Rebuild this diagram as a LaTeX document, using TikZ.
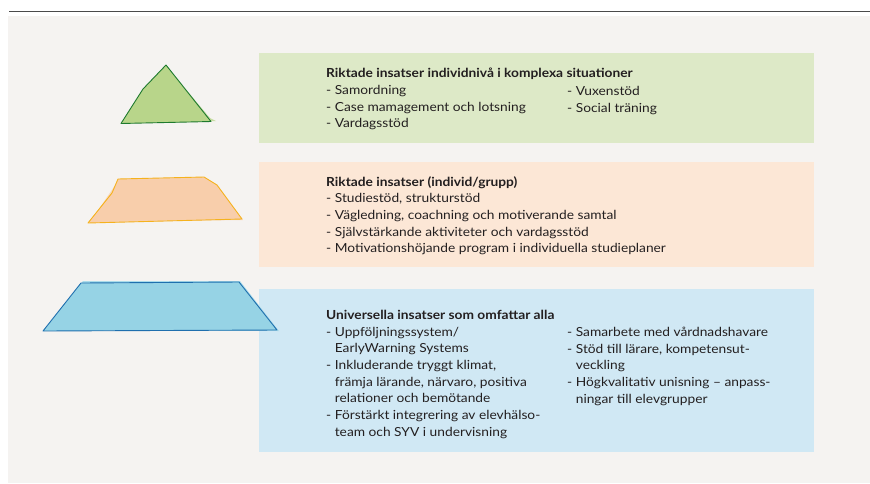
\documentclass[tikz,border=0pt]{standalone}
\usepackage{fontspec}
\setmainfont{Lato}[FakeStretch=1.10, BoldFeatures={FakeStretch=1.10}]
\usepackage{tikz}
\usetikzlibrary{calc}
\definecolor{panelgray}{HTML}{F5F3F1}
\definecolor{rulegray}{HTML}{4A4A4A}
\definecolor{txt}{HTML}{231F20}
\definecolor{greenbox}{HTML}{DDE9C7}
\definecolor{orangebox}{HTML}{FCE7D6}
\definecolor{bluebox}{HTML}{D0E8F4}
\definecolor{greenfill}{HTML}{B8D58A}
\definecolor{greenline}{HTML}{1E7A2E}
\definecolor{orangefill}{HTML}{F8CEAB}
\definecolor{orangeline}{HTML}{F5B21E}
\definecolor{bluefill}{HTML}{96D3E5}
\definecolor{blueline}{HTML}{1F6FAE}
\tikzstyle{tierbox} = [rectangle, draw=none, anchor=north west, inner sep=0pt, minimum width=555]
\tikzstyle{column} = [anchor=north west, inner sep=0pt, align=left, text=txt, font=\fontsize{12.5}{16.7}\selectfont]
\tikzstyle{sketch} = [line width=0.9pt, line join=round]

\begin{document}
\begin{tikzpicture}[x=1pt,y=-1pt]
\useasboundingbox (0,0) rectangle (870,483);
\fill[panelgray] (8,16) rectangle (870,483);
\draw[rulegray, line width=1.5pt] (9,11.5) -- (870,11.5);
% boxes
\node (green) [tierbox, fill=greenbox, minimum height=90] at (259,53) {};
\node (orange) [tierbox, fill=orangebox, minimum height=105] at (259,162) {};
\node (blue) [tierbox, fill=bluebox, minimum height=163] at (259,289) {};
% texts
\node (greenleft) [column] at (326,68) {\textbf{Riktade insatser individnivå i komplexa situationer}\\- Samordning\\- Case mamagement och lotsning\\- Vardagsstöd};
\node (greenright) [column] at (567,86) {- Vuxenstöd\\- Social träning};
\node (orangeleft) [column] at (326,176) {\textbf{Riktade insatser (individ/grupp)}\\- Studiestöd, strukturstöd\\- Vägledning, coachning och motiverande samtal\\- Självstärkande aktiviteter och vardagsstöd\\- Motivationshöjande program i individuella studieplaner};
\node (blueleft) [column] at (326,310) {\textbf{Universella insatser som omfattar alla}\\- Uppföljningssystem/\\\phantom{- }EarlyWarning Systems\\- Inkluderande tryggt klimat,\\\phantom{- }främja lärande, närvaro, positiva\\\phantom{- }relationer och bemötande\\- Förstärkt integrering av elevhälso-\\\phantom{- }team och SYV i undervisning};
\node (blueright) [column] at (567,327) {- Samarbete med vårdnadshavare\\- Stöd till lärare, kompetensut-\\\phantom{- }veckling\\- Högkvalitativ unisning – anpass-\\\phantom{- }ningar till elevgrupper};
% pyramid pieces
\fill[greenfill!80] (166,66) -- (122,123) -- (216,121) -- (210,118) -- cycle;
\draw[sketch, greenline, fill=greenfill] (166,65) -- (143,89) -- (121,123.5) -- (211,121.5) -- cycle;
\fill[orangefill!80] (90,222) -- (118,181) -- (206,178) -- (243,220) -- cycle;
\draw[sketch, orangeline, fill=orangefill] (88,223) -- (112,193) -- (118,179) -- (204,177) -- (217,185) -- (242,219) -- cycle;
\fill[bluefill!80] (45,330) -- (83,281) -- (240,281) -- (279,331) -- cycle;
\draw[sketch, blueline, fill=bluefill] (43,331) -- (81,283) -- (239,282) -- (277,330) -- cycle;
\end{tikzpicture}
\end{document}
